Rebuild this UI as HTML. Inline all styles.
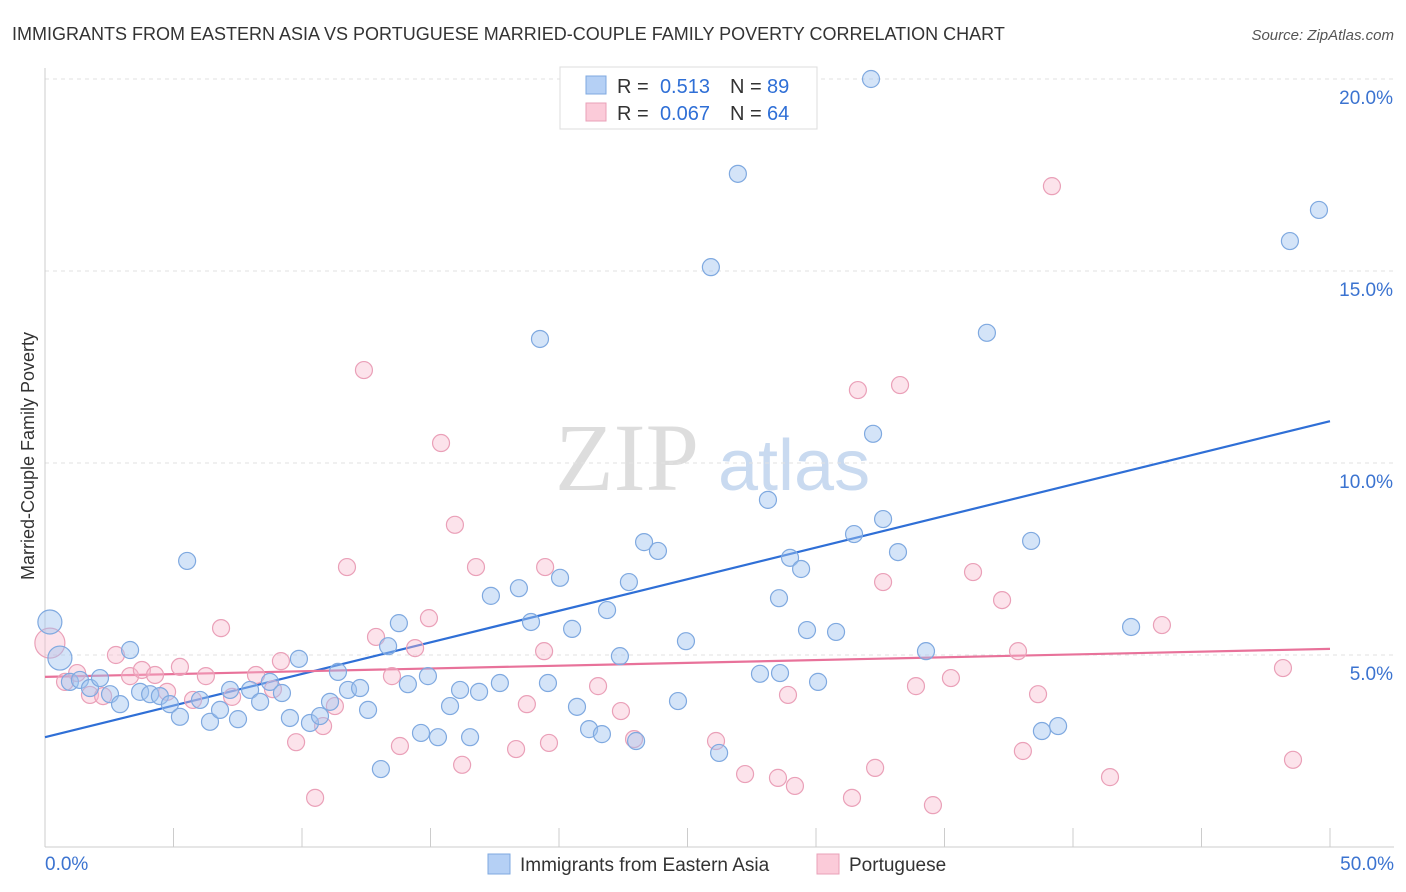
<!DOCTYPE html>
<html><head><meta charset="utf-8"><style>
body{margin:0;background:#fff;font-family:"Liberation Sans",sans-serif;}
svg{display:block}
</style></head><body>
<svg id="chart" width="1406" height="892">
<text x="12" y="40" font-size="18" fill="#333">IMMIGRANTS FROM EASTERN ASIA VS PORTUGUESE MARRIED-COUPLE FAMILY POVERTY CORRELATION CHART</text>
<text x="1394" y="40" font-size="15" fill="#555" text-anchor="end" font-style="italic">Source: ZipAtlas.com</text>
<g>
<text x="555" y="490" font-size="96" fill="#ddd" font-family="Liberation Serif,serif">ZIP</text>
<text x="718" y="490" font-size="72" fill="#c9daf0">atlas</text>
</g>
<g id="grid"></g>
<g id="axes"></g>
<g id="lines"></g>
<g id="points"></g>
<text transform="translate(34,456) rotate(-90)" font-size="18" fill="#333" text-anchor="middle">Married-Couple Family Poverty</text>
<g>
<rect x="560" y="67" width="257" height="62" fill="#fff" stroke="#ddd"/>
<rect x="586" y="76" width="20" height="18" fill="#b5d0f5" stroke="#7fa9e0"/>
<rect x="586" y="103" width="20" height="18" fill="#fbcbd9" stroke="#eaa0b8"/>
<text y="93" font-size="20" fill="#333"><tspan x="617">R =</tspan><tspan x="710" text-anchor="end" fill="#2f6fd6">0.513</tspan><tspan x="730">N =</tspan><tspan x="767" fill="#2f6fd6">89</tspan></text>
<text y="120" font-size="20" fill="#333"><tspan x="617">R =</tspan><tspan x="710" text-anchor="end" fill="#2f6fd6">0.067</tspan><tspan x="730">N =</tspan><tspan x="767" fill="#2f6fd6">64</tspan></text>
</g>
<g>
<rect x="488" y="854" width="22" height="20" fill="#b5d0f5" stroke="#7fa9e0"/>
<text x="520" y="871" font-size="19" fill="#333">Immigrants from Eastern Asia</text>
<rect x="817" y="854" width="22" height="20" fill="#fbcbd9" stroke="#eaa0b8"/>
<text x="849" y="871" font-size="19" fill="#333">Portuguese</text>
</g>
</svg>
<script>
const xTicks=[0,5,10,15,20,25,30,35,40,45,50];
const yTicks=[5,10,15,20];
const yTickLabels=["5.0%","10.0%","15.0%","20.0%"];
const xEndLabels=["0.0%","50.0%"];
const blueX=[0.19,0.58,0.97,1.36,1.75,2.14,2.53,2.92,3.31,3.70,4.09,4.47,4.86,5.25,5.53,6.03,6.42,6.81,7.20,7.51,7.98,8.37,8.75,9.22,9.53,9.88,10.31,10.70,11.09,11.40,11.79,12.26,12.57,13.07,13.35,13.77,14.12,14.63,14.90,15.29,15.76,16.15,16.54,16.89,17.35,17.70,18.44,18.91,19.26,19.57,20.04,20.51,20.70,21.17,21.67,21.87,22.37,22.72,23.00,23.31,23.85,24.63,24.94,25.91,26.23,26.96,27.82,28.13,28.56,28.60,28.99,29.42,29.65,30.08,30.78,31.48,32.14,32.22,32.61,33.19,34.28,36.65,38.37,38.79,39.42,42.26,48.44,49.57];
const blueY=[5.86,4.92,4.30,4.35,4.14,4.40,3.98,3.72,5.13,4.04,3.98,3.93,3.72,3.39,7.45,3.83,3.26,3.57,4.09,3.33,4.09,3.78,4.30,4.01,3.36,4.90,3.23,3.41,3.78,4.56,4.09,4.14,3.57,2.03,5.23,5.83,4.24,2.97,4.45,2.86,3.67,4.09,2.86,4.04,6.54,4.27,6.74,5.86,13.23,4.27,7.01,5.68,3.65,3.07,2.94,6.17,4.97,6.90,2.76,7.94,7.71,3.80,5.36,15.10,2.45,17.53,4.51,9.04,6.48,4.53,7.53,7.24,5.65,4.30,5.60,8.15,20.00,10.76,8.54,7.68,5.10,13.39,7.97,3.02,3.15,5.73,15.78,16.59];
const pinkX=[0.19,0.78,1.25,1.75,2.26,2.76,3.31,3.77,4.28,4.75,5.25,5.76,6.26,6.85,7.28,8.21,8.87,9.18,9.77,10.51,10.82,11.28,11.75,12.41,12.88,13.50,13.81,14.40,14.94,15.41,15.95,16.23,16.77,18.33,18.75,19.42,19.46,19.61,21.52,22.41,22.92,26.11,27.24,28.52,28.91,29.18,31.40,31.63,32.30,32.61,33.27,33.89,34.55,35.25,36.11,37.24,37.86,38.05,38.64,39.18,41.44,43.46,48.17,48.56];
const pinkY=[5.31,4.30,4.53,3.96,3.93,5.00,4.45,4.61,4.48,4.04,4.69,3.83,4.45,5.70,3.91,4.48,4.11,4.84,2.73,1.28,3.15,3.67,7.29,12.42,5.47,4.45,2.63,5.18,5.96,10.52,8.39,2.14,7.29,2.55,3.72,5.10,7.29,2.71,4.19,3.54,2.81,2.76,1.90,1.80,3.96,1.59,1.28,11.90,2.06,6.90,12.03,4.19,1.09,4.40,7.16,6.43,5.10,2.50,3.98,17.21,1.82,5.78,4.66,2.27];
const blueTrend=[2.86,11.09];
const pinkTrend=[4.43,5.16];
const NS="http://www.w3.org/2000/svg";
const sx=v=>45+v*25.7, sy=v=>847-v*38.4;
function mk(p,t,a){const e=document.createElementNS(NS,t);for(const k in a)e.setAttribute(k,a[k]);p.appendChild(e);return e;}
const gridG=document.getElementById('grid'),axesG=document.getElementById('axes'),linesG=document.getElementById('lines'),ptsG=document.getElementById('points');
yTicks.forEach((v,i)=>{const l=mk(gridG,'line',{x1:45,x2:1394,y1:sy(v),y2:sy(v),stroke:'#e2e2e2','stroke-dasharray':'4,4'});


const t=mk(axesG,'text',{x:1393,y:sy(v)+25,'font-size':19,fill:'#3b73d0','text-anchor':'end'});t.textContent=yTickLabels[i];

});
const topLine=mk(gridG,'line',{x1:45,x2:1394,y1:79,y2:79,stroke:'#e2e2e2','stroke-dasharray':'4,4'});


const ya=mk(axesG,'line',{x1:45,x2:45,y1:68,y2:847,stroke:'#ccc'});


const xa=mk(axesG,'line',{x1:45,x2:1394,y1:847,y2:847,stroke:'#ccc'});


xTicks.forEach(v=>{const l=mk(axesG,'line',{x1:sx(v),x2:sx(v),y1:828,y2:847,stroke:'#ccc'});

});
[[0,'start',45],[50,'end',1394]].forEach((d,i)=>{const t=mk(axesG,'text',{x:d[2],y:870,'font-size':19,fill:'#3b73d0','text-anchor':d[1]});t.textContent=xEndLabels[i];

});
function dots(X,Y,fill,stroke,name,bigN,bigR){X.forEach((x,i)=>{const c=mk(ptsG,'circle',{cx:sx(x),cy:sy(Y[i]),r:i<bigN?bigR:8.5,fill:fill,stroke:stroke,'stroke-width':1.2});

});}
dots(pinkX,pinkY,'rgba(248,185,205,0.4)','#eaa0b8','point-portuguese',1,15);
dots(blueX,blueY,'rgba(160,196,240,0.45)','#7fa9e0','point-eastern-asia',2,12);
const bl=mk(linesG,'line',{x1:sx(0),x2:sx(50),y1:sy(blueTrend[0]),y2:sy(blueTrend[1]),stroke:'#2f6fd6','stroke-width':2.2});


const pl=mk(linesG,'line',{x1:sx(0),x2:sx(50),y1:sy(pinkTrend[0]),y2:sy(pinkTrend[1]),stroke:'#e8729a','stroke-width':2.2});


</script>
</body></html>
